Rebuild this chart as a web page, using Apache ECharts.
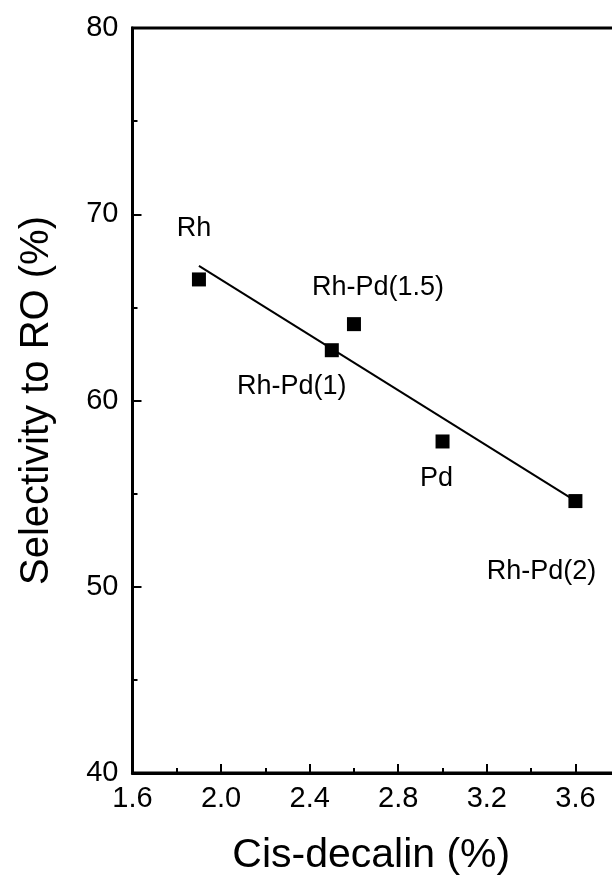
<!DOCTYPE html>
<html>
<head>
<meta charset="utf-8">
<script src="https://cdn.jsdelivr.net/npm/echarts@6/dist/echarts.min.js"></script>
<style>
  html, body { margin: 0; padding: 0; background: #fff; }
  #main { width: 612px; height: 877px; }
</style>
</head>
<body>
<div id="main"></div>
<script>
// values
var catalysts = ['Rh', 'Rh-Pd(1)', 'Rh-Pd(1.5)', 'Pd', 'Rh-Pd(2)'];
var cisDecalin = [1.9, 2.5, 2.6, 3.0, 3.6];
var selectivity = [66.5, 62.7, 64.1, 57.8, 54.6];
var xTicks = [1.6, 2.0, 2.4, 2.8, 3.2, 3.6];
var yTicks = [40, 50, 60, 70, 80];

// where each catalyst name sits relative to its square
var labelOffsets = [[-5, -51], [-40, 36], [24, -37], [-6, 37], [-34, 70]];

// least squares line through the points
var n = cisDecalin.length, mx = 0, my = 0;
for (var i = 0; i < n; i++) { mx += cisDecalin[i]; my += selectivity[i]; }
mx /= n; my /= n;
var sxy = 0, sxx = 0;
for (var i = 0; i < n; i++) {
  sxy += (cisDecalin[i] - mx) * (selectivity[i] - my);
  sxx += (cisDecalin[i] - mx) * (cisDecalin[i] - mx);
}
var slope = sxy / sxx, icpt = my - slope * mx;
var xLo = Math.min.apply(null, cisDecalin), xHi = Math.max.apply(null, cisDecalin);
var fitLine = [[xLo, icpt + slope * xLo], [xHi, icpt + slope * xHi]];

var points = cisDecalin.map(function (x, i) {
  return {
    value: [x, selectivity[i]],
    name: catalysts[i],
    label: { offset: labelOffsets[i] }
  };
});

var font = 'Liberation Sans, Arial, sans-serif';
var myChart = echarts.init(document.getElementById('main'));

myChart.setOption({
  animation: false,
  backgroundColor: '#fff',
  grid: {
    left: 132.5, top: 28, right: -52, bottom: 104,
    outerBoundsMode: 'none',
    show: true, borderColor: '#000', borderWidth: 3
  },
  xAxis: {
    type: 'value',
    min: 1.6, max: 4.0, interval: 0.4,
    name: 'Cis-decalin (%)',
    nameLocation: 'middle',
    nameGap: 62,
    // grid runs past the right edge, so pull the title back to the visible middle
    nameTextStyle: { fontFamily: font, fontSize: 41, color: '#000', padding: [0, 54, 0, 0] },
    axisLine: { lineStyle: { color: '#000', width: 3 } },
    axisTick: { inside: true, length: 9, lineStyle: { width: 2 } },
    minorTick: { show: true, splitNumber: 2, length: 5, lineStyle: { color: '#000', width: 2 } },
    splitLine: { show: false },
    axisLabel: {
      margin: 11, fontFamily: font, fontSize: 29, color: '#000',
      formatter: function (v) { return xTicks.indexOf(+v.toFixed(1)) >= 0 ? v.toFixed(1) : ''; }
    }
  },
  yAxis: {
    type: 'value',
    min: 40, max: 80, interval: 10,
    name: 'Selectivity to RO (%)',
    nameLocation: 'middle',
    nameGap: 76,
    nameTextStyle: { fontFamily: font, fontSize: 40, color: '#000' },
    axisLine: { lineStyle: { color: '#000', width: 3 } },
    axisTick: { inside: true, length: 9, lineStyle: { width: 2 } },
    minorTick: { show: true, splitNumber: 2, length: 5, lineStyle: { color: '#000', width: 2 } },
    splitLine: { show: false },
    axisLabel: {
      margin: 14, fontFamily: font, fontSize: 29, color: '#000',
      formatter: function (v) { return yTicks.indexOf(v) >= 0 ? String(v) : ''; }
    }
  },
  series: [
    {
      name: 'fit',
      type: 'line',
      data: fitLine,
      symbol: 'none',
      lineStyle: { color: '#000', width: 2 },
      z: 2
    },
    {
      name: 'catalysts',
      type: 'scatter',
      data: points,
      symbol: 'rect',
      symbolSize: 14,
      itemStyle: { color: '#000', opacity: 1 },
      label: {
        show: true,
        position: 'inside',
        formatter: '{b}',
        fontFamily: font,
        fontSize: 27,
        color: '#000',
        opacity: 1
      },
      z: 3
    }
  ]
});
</script>
</body>
</html>
